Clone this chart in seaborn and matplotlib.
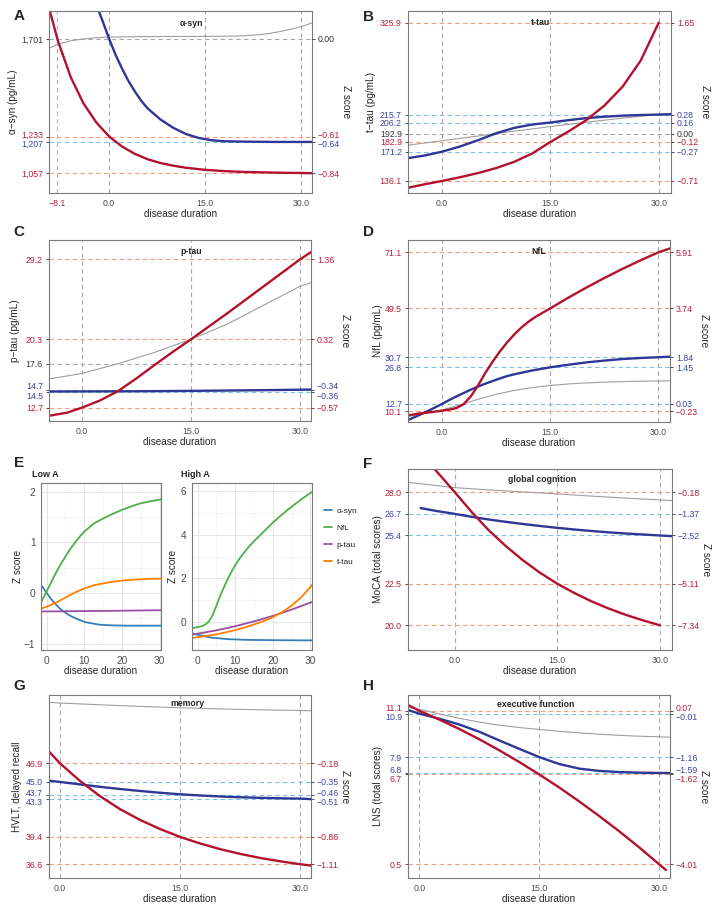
import matplotlib
matplotlib.use("Agg")
import matplotlib.pyplot as plt
import matplotlib.transforms as mtransforms
import pandas as pd
import seaborn as sns

FIG_W, FIG_H = 712, 907

sns.set_style("white")
plt.rcParams['font.family'] = ['Liberation Sans', 'DejaVu Sans']

RED = '#B3122E'
BLUE = '#2E3796'
GREY = '#9E9E9E'
LABEL_COLORS = {'r': '#B81D3A', 'b': '#3D43A8', 'k': '#333333', 'g': '#4D4D4D'}
DASH_COLORS = {'r': '#F89C7E', 'b': '#7CC0EC', 'k': '#A8A8A8', 'g': '#A8A8A8'}
SPINE = '#7A7A7A'

# ---------------- data ----------------
dur_ticks = [0, 15, 30]
dur_labels = ['0.0', '15.0', '30.0']
dur_kind = ['g', 'g', 'g']

# A: alpha-synuclein
asyn_hi_x = [-9.4, -8, -6, -4, -2, 0, 2, 4, 6, 8, 10, 12, 15, 18, 21, 24, 27, 30, 31.7]
asyn_hi = [1850, 1691, 1517, 1391, 1300, 1233, 1185, 1150, 1124, 1106, 1093, 1083, 1073,
           1067, 1063, 1061, 1059, 1058, 1057]
asyn_lo_x = [-1.9, -1, 0, 1, 2, 3, 4, 5, 6, 8, 10, 12, 14, 16, 18, 22, 26, 31.7]
asyn_lo = [1857, 1785, 1701, 1625, 1560, 1500, 1450, 1405, 1368, 1315, 1275, 1245, 1226,
           1215, 1210, 1208, 1207, 1207]
asyn_ref_x = [-9.4, -8, -6, -4, -2, 0, 5, 10, 15, 20, 23, 25, 27, 29, 30.5, 31.7]
asyn_ref = [1656, 1676, 1692, 1701, 1707, 1710, 1712, 1713, 1713, 1715, 1720, 1727, 1738,
            1752, 1765, 1778]
asyn_xticks = [-8.1, 0, 15, 30]
asyn_xlabels = ['−8.1', '0.0', '15.0', '30.0']
asyn_xkind = ['r', 'g', 'g', 'g']
asyn_yticks = [1057, 1207, 1233, 1701]
asyn_ylabels = ['1,057', '1,207', '1,233', '1,701']
asyn_zlabels = ['−0.84', '−0.64', '−0.61', '0.00']
asyn_ykind = ['r', 'b', 'r', 'k']

# B: total tau
ttau_hi_x = [-4.7, -2.5, 0, 2.5, 5, 7.5, 10, 12.5, 15, 17.5, 20, 22.5, 25, 27.5, 30]
ttau_hi = [128.0, 132.0, 136.1, 140.6, 145.6, 151.6, 159.1, 169.1, 182.9, 195.4, 209.2,
           226.7, 249.2, 280.4, 325.9]
ttau_lo_x = [-4.7, -2.5, 0, 2.5, 5, 7.5, 10, 12.5, 15, 17.5, 20, 22.5, 25, 27.5, 30, 31.7]
ttau_lo = [163.5, 166.5, 171.2, 177.5, 185.0, 193.3, 199.8, 203.8, 206.2, 209.0, 211.5,
           213.2, 214.4, 215.2, 215.7, 216.0]
ttau_ref_x = [-4.7, 0, 5, 10, 15, 20, 25, 30, 31.7]
ttau_ref = [179.0, 184.4, 190.0, 195.8, 201.3, 206.5, 211.5, 216.0, 217.3]
ttau_yticks = [136.1, 171.2, 182.9, 192.9, 206.2, 215.7, 325.9]
ttau_ylabels = ['136.1', '171.2', '182.9', '192.9', '206.2', '215.7', '325.9']
ttau_zlabels = ['−0.71', '−0.27', '−0.12', '0.00', '0.16', '0.28', '1.65']
ttau_ykind = ['r', 'b', 'r', 'k', 'b', 'b', 'r']

# C: phosphorylated tau
ptau_hi_x = [-4.5, -2, 0, 2.5, 5, 7.5, 10, 12.5, 15, 17.5, 20, 22.5, 25, 27.5, 30, 31.5]
ptau_hi = [11.8, 12.15, 12.7, 13.5, 14.55, 15.95, 17.45, 18.9, 20.3, 21.75, 23.2, 24.7,
           26.2, 27.7, 29.2, 30.0]
ptau_lo_x = [-4.5, 0, 5, 10, 15, 20, 25, 30, 31.5]
ptau_lo = [14.50, 14.51, 14.52, 14.54, 14.57, 14.61, 14.65, 14.70, 14.72]
ptau_ref_x = [-4.5, 0, 5, 10, 15, 20, 25, 30, 31.5]
ptau_ref = [15.9, 16.5, 17.6, 18.85, 20.3, 22.0, 24.1, 26.2, 26.6]
ptau_yticks = [12.7, 14.5, 14.7, 17.6, 20.3, 29.2]
ptau_ylabels = ['12.7', '14.5', '14.7', '17.6', '20.3', '29.2']
ptau_zlabels = ['−0.57', '−0.36', '−0.34', '', '0.32', '1.36']
ptau_ykind = ['r', 'b', 'b', 'k', 'r', 'r']

# D: neurofilament light
nfl_hi_x = [-4.7, -3, -1, 0, 1, 2, 3, 4, 5, 6, 7, 8, 9, 10, 11, 12, 13, 14, 15, 17.5, 20,
            22.5, 25, 27.5, 30, 31.6]
nfl_hi = [8.3, 9.1, 9.7, 10.1, 10.5, 11.1, 12.6, 15.6, 19.8, 24.6, 28.9, 32.8, 36.3, 39.4,
          42.1, 44.4, 46.3, 47.9, 49.5, 53.6, 57.5, 61.2, 64.7, 68.0, 71.1, 72.6]
nfl_lo_x = [-4.7, -3, -2, -1, 0, 1, 2, 3, 4, 5, 6, 7, 8, 9, 10, 12.5, 15, 17.5, 20, 22.5,
            25, 27.5, 30, 31.6]
nfl_lo = [6.5, 8.6, 9.9, 11.3, 12.7, 14.2, 15.6, 16.9, 18.2, 19.4, 20.5, 21.5, 22.5, 23.4,
          24.1, 25.6, 26.8, 27.8, 28.7, 29.4, 30.0, 30.4, 30.7, 30.9]
nfl_ref_x = [-4.7, -2.5, 0, 2.5, 5, 7.5, 10, 12.5, 15, 17.5, 20, 22.5, 25, 27.5, 30, 31.6]
nfl_ref = [7.9, 9.0, 10.4, 12.3, 14.5, 16.4, 17.9, 19.0, 19.8, 20.4, 20.8, 21.1, 21.3,
           21.45, 21.55, 21.6]
nfl_yticks = [10.1, 12.7, 26.8, 30.7, 49.5, 71.1]
nfl_ylabels = ['10.1', '12.7', '26.8', '30.7', '49.5', '71.1']
nfl_zlabels = ['−0.23', '0.03', '1.45', '1.84', '3.74', '5.91']
nfl_ykind = ['r', 'b', 'b', 'b', 'r', 'r']

# F: global cognition (MoCA)
moca_hi_x = [-3.4, -2, 0, 2.5, 5, 7.5, 10, 12.5, 15, 17.5, 20, 22.5, 25, 27.5, 30]
moca_hi = [29.6, 28.95, 28.0, 26.8, 25.7, 24.75, 23.9, 23.15, 22.5, 21.94, 21.44, 21.01,
           20.63, 20.3, 20.0]
moca_lo_x = [-5.0, -2.5, 0, 2.5, 5, 7.5, 10, 12.5, 15, 17.5, 20, 22.5, 25, 27.5, 30, 31.8]
moca_lo = [27.05, 26.86, 26.7, 26.52, 26.36, 26.22, 26.09, 25.97, 25.86, 25.76, 25.67,
           25.59, 25.52, 25.46, 25.4, 25.36]
moca_ref_x = [-6.85, -3, 0, 5, 10, 15, 20, 25, 30, 31.8]
moca_ref = [28.6, 28.42, 28.28, 28.14, 28.02, 27.9, 27.77, 27.65, 27.54, 27.5]
moca_yticks = [20.0, 22.5, 25.4, 26.7, 28.0]
moca_ylabels = ['20.0', '22.5', '25.4', '26.7', '28.0']
moca_zlabels = ['−7.34', '−5.11', '−2.52', '−1.37', '−0.18']
moca_ykind = ['r', 'r', 'b', 'b', 'r']

# G: memory (HVLT delayed recall)
hvlt_hi_x = [-1.375, 0, 2.5, 5, 7.5, 10, 12.5, 15, 17.5, 20, 22.5, 25, 27.5, 30, 31.4]
hvlt_hi = [48.1, 46.9, 45.1, 43.55, 42.23, 41.13, 40.2, 39.4, 38.73, 38.15, 37.67, 37.25,
           36.91, 36.61, 36.47]
hvlt_lo_x = [-1.375, 0, 2.5, 5, 7.5, 10, 12.5, 15, 17.5, 20, 22.5, 25, 27.5, 30, 31.4]
hvlt_lo = [45.13, 45.0, 44.75, 44.5, 44.28, 44.08, 43.9, 43.74, 43.62, 43.52, 43.44, 43.38,
           43.33, 43.3, 43.25]
hvlt_ref_x = [-1.375, 0, 5, 10, 15, 20, 25, 30, 31.4]
hvlt_ref = [53.12, 53.05, 52.87, 52.71, 52.57, 52.45, 52.36, 52.29, 52.27]
hvlt_yticks = [36.6, 39.4, 43.3, 43.7, 45.0, 46.9]
hvlt_ylabels = ['36.6', '39.4', '43.3', '43.7', '45.0', '46.9']
hvlt_zlabels = ['−1.11', '−0.86', '−0.51', '−0.46', '−0.35', '−0.18']
hvlt_ykind = ['r', 'r', 'b', 'b', 'b', 'r']

# H: executive function (LNS)
lns_hi_x = [-1.42, 0, 2.5, 5, 7.5, 10, 12.5, 15, 17.5, 20, 22.5, 25, 27.5, 30, 30.9]
lns_hi = [11.5, 11.1, 10.49, 9.84, 9.13, 8.37, 7.56, 6.7, 5.8, 4.84, 3.83, 2.78, 1.67,
          0.5, 0.08]
lns_lo_x = [-1.42, 0, 2.5, 5, 7.5, 10, 12.5, 15, 17.5, 20, 22.5, 25, 27.5, 30, 31.4]
lns_lo = [11.15, 10.9, 10.55, 10.15, 9.65, 9.05, 8.47, 7.9, 7.42, 7.1, 6.94, 6.86, 6.82,
          6.8, 6.79]
lns_ref_x = [-1.42, 0, 2.5, 5, 7.5, 10, 12.5, 15, 17.5, 20, 22.5, 25, 27.5, 30, 31.4]
lns_ref = [11.33, 11.2, 10.88, 10.58, 10.32, 10.1, 9.94, 9.81, 9.68, 9.57, 9.48, 9.4, 9.34,
           9.3, 9.27]
lns_yticks = [0.5, 6.7, 6.8, 7.9, 10.9, 11.1]
lns_ylabels = ['0.5', '6.7', '6.8', '7.9', '10.9', '11.1']
lns_zlabels = ['−4.01', '−1.62', '−1.59', '−1.16', '−0.01', '0.07']
lns_ykind = ['r', 'r', 'b', 'b', 'b', 'r']

# E: Z scores of all biomarkers, low vs high amyloid
markers = ['α-syn', 'NfL', 'p-tau', 't-tau']
marker_colors = ['#377EB8', '#4DAF4A', '#984EA3', '#FF7F00']

low_asyn_x = [-1.5, 0, 1, 2, 3, 4, 5, 6, 8, 10, 12, 14, 16, 18, 22, 26, 30.4]
low_asyn = [0.16, 0.0, -0.10, -0.19, -0.27, -0.34, -0.39, -0.44, -0.51, -0.57, -0.60,
            -0.625, -0.635, -0.64, -0.645, -0.645, -0.645]
low_nfl_x = [-1.5, 0, 1, 2, 3, 4, 5, 6, 7, 8, 9, 10, 12.5, 15, 17.5, 20, 22.5, 25, 27.5,
             30, 30.4]
low_nfl = [-0.18, 0.03, 0.18, 0.33, 0.47, 0.60, 0.72, 0.84, 0.94, 1.04, 1.13, 1.21, 1.37,
           1.47, 1.56, 1.64, 1.71, 1.77, 1.81, 1.84, 1.85]
low_ptau_x = [-1.5, 10, 20, 30.4]
low_ptau = [-0.365, -0.357, -0.35, -0.34]
low_ttau_x = [-1.5, 0, 2.5, 5, 7.5, 10, 12.5, 15, 17.5, 20, 22.5, 25, 27.5, 30, 30.4]
low_ttau = [-0.31, -0.27, -0.19, -0.09, 0.01, 0.09, 0.15, 0.19, 0.22, 0.245, 0.26, 0.27,
            0.28, 0.283, 0.285]

high_asyn_x = [-1.5, 0, 2, 4, 6, 8, 10, 12, 15, 20, 25, 30.4]
high_asyn = [-0.52, -0.58, -0.66, -0.72, -0.75, -0.78, -0.795, -0.81, -0.82, -0.83,
             -0.835, -0.84]
high_nfl_x = [-1.5, 0, 1, 2, 3, 4, 5, 6, 7, 8, 9, 10, 11, 12, 13, 14, 15, 17.5, 20, 22.5,
              25, 27.5, 30, 30.4]
high_nfl = [-0.28, -0.23, -0.19, -0.12, 0.03, 0.32, 0.75, 1.2, 1.6, 1.97, 2.3, 2.6, 2.87,
            3.1, 3.32, 3.52, 3.7, 4.13, 4.55, 4.93, 5.28, 5.61, 5.91, 5.95]
high_ptau_x = [-1.5, 0, 5, 10, 15, 20, 25, 30, 30.4]
high_ptau = [-0.58, -0.53, -0.38, -0.19, 0.03, 0.28, 0.57, 0.89, 0.92]
high_ttau_x = [-1.5, 0, 2.5, 5, 7.5, 10, 12.5, 15, 17.5, 20, 22.5, 25, 27.5, 30, 30.4]
high_ttau = [-0.73, -0.69, -0.63, -0.56, -0.47, -0.37, -0.25, -0.11, 0.04, 0.22, 0.45,
             0.75, 1.12, 1.6, 1.7]


def px_rect(l, t, r, b):
    return [l / FIG_W, 1 - b / FIG_H, (r - l) / FIG_W, (b - t) / FIG_H]


def nudge_labels(ticks, nudges, fig):
    # push apart tick labels that would sit on top of each other
    for tick in ticks:
        dy = nudges.get(round(tick.get_loc(), 2))
        if dy:
            off = mtransforms.ScaledTranslation(0, dy / 72, fig.dpi_scale_trans)
            for lab in (tick.label1, tick.label2):
                lab.set_transform(lab.get_transform() + off)


def draw_panel(fig, p):
    l, t, r, b = p['rect']
    w_px, h_px = r - l, b - t
    ax = fig.add_axes(px_rect(*p['rect']))

    dash = (0, (4, 3))
    for xv, k in zip(p['xticks'], p['xkind']):
        ax.axvline(xv, color=DASH_COLORS[k], lw=0.8, ls=dash, zorder=1)
    for yv, k in zip(p['yticks'], p['ykind']):
        ax.axhline(yv, color=DASH_COLORS[k], lw=0.8, ls=dash, zorder=1)

    sns.lineplot(x=p['ref'][0], y=p['ref'][1], ax=ax, color=GREY, lw=0.8, estimator=None)
    sns.lineplot(x=p['lo'][0], y=p['lo'][1], ax=ax, color=BLUE, lw=1.7, estimator=None)
    sns.lineplot(x=p['hi'][0], y=p['hi'][1], ax=ax, color=RED, lw=1.7, estimator=None)

    ax.set_xlim(*p['xlim'])
    ax.set_ylim(*p['ylim'])
    ax.set_xticks(p['xticks'])
    ax.set_xticklabels(p['xlabels'])
    ax.set_yticks(p['yticks'])
    ax.set_yticklabels(p['ylabels'])
    for lab, k in zip(ax.get_xticklabels(), p['xkind']):
        lab.set_color(LABEL_COLORS[k])
    for lab, k in zip(ax.get_yticklabels(), p['ykind']):
        lab.set_color(LABEL_COLORS[k])
    ax.tick_params(length=2.5, width=0.6, color='#333333', labelsize=6.3, pad=1.8)
    for s in ax.spines.values():
        s.set_color(SPINE)
        s.set_linewidth(0.8)

    # right-hand Z score axis
    ax2 = ax.twinx()
    ax2.set_ylim(*p['ylim'])
    z_pos = [y for y, z in zip(p['yticks'], p['zlabels']) if z]
    z_lab = [z for z in p['zlabels'] if z]
    z_kind = [k for k, z in zip(p['ykind'], p['zlabels']) if z]
    ax2.set_yticks(z_pos)
    ax2.set_yticklabels(z_lab)
    for lab, k in zip(ax2.get_yticklabels(), z_kind):
        lab.set_color(LABEL_COLORS[k])
    ax2.tick_params(length=2.5, width=0.6, color='#333333', labelsize=6.3, pad=1.8)
    for s in ax2.spines.values():
        s.set_visible(False)

    ax.set_xlabel('disease duration', fontsize=7.2, va='center')
    ax.xaxis.set_label_coords(0.5, -21 / h_px)
    ax.set_ylabel(p['ylabel'], fontsize=7.2, va='center')
    ax.yaxis.set_label_coords(-p['ylab_off'] / w_px, 0.5)
    ax2.set_ylabel('Z score', fontsize=7.2, rotation=270, va='center', ha='center')
    ax2.yaxis.set_label_coords(1 + 34 / w_px, 0.5)

    ax.text(p['title_x'], 1 - p['title_dy'] / h_px, p['title'], transform=ax.transAxes,
            ha='center', va='center', fontsize=6.3, fontweight='bold')

    nudge_labels(ax.yaxis.get_major_ticks(), p['nudges'], fig)
    nudge_labels(ax2.yaxis.get_major_ticks(), p['nudges'], fig)
    return ax


def long_frame(parts):
    frames = [pd.DataFrame({'duration': xs, 'z': zs, 'biomarker': name})
              for name, xs, zs in parts]
    return pd.concat(frames, ignore_index=True)


def draw_e(fig, rect, df, xlim, ylim, yticks, yminor, ylab_off, legend):
    l, t, r, b = rect
    ax = fig.add_axes(px_rect(*rect))
    ax.set_axisbelow(True)
    sns.lineplot(data=df, x='duration', y='z', hue='biomarker', hue_order=markers,
                 palette=marker_colors, lw=1.3, estimator=None, legend=legend, ax=ax)
    ax.set_xlim(*xlim)
    ax.set_ylim(*ylim)
    ax.set_xticks([0, 10, 20, 30])
    ax.set_xticks([5, 15, 25], minor=True)
    ax.set_yticks(yticks)
    ax.set_yticks(yminor, minor=True)
    ax.grid(which='major', color='#E6E6E6', lw=0.7)
    ax.grid(which='minor', color='#F2F2F2', lw=0.45)
    ax.tick_params(which='major', length=2.5, width=0.6, color='#333333', labelsize=7.3,
                   labelcolor='#4D4D4D', pad=1.5)
    ax.tick_params(which='minor', length=0)
    for s in ax.spines.values():
        s.set_color(SPINE)
        s.set_linewidth(0.8)
    ax.set_xlabel('disease duration', fontsize=7.2, va='center')
    ax.xaxis.set_label_coords(0.5, -21.5 / (b - t))
    ax.set_ylabel('Z score', fontsize=7.2, va='center')
    ax.yaxis.set_label_coords(-ylab_off / (r - l), 0.5)
    return ax


fig = plt.figure(figsize=(FIG_W / 100, FIG_H / 100), dpi=100)

panels = [
    dict(rect=(49, 11, 312, 193), title='α-syn', ylabel='α−syn (pg/mL)',
         hi=(asyn_hi_x, asyn_hi), lo=(asyn_lo_x, asyn_lo), ref=(asyn_ref_x, asyn_ref),
         xlim=(-9.4, 31.7), ylim=(962, 1835),
         xticks=asyn_xticks, xlabels=asyn_xlabels, xkind=asyn_xkind,
         yticks=asyn_yticks, ylabels=asyn_ylabels, zlabels=asyn_zlabels, ykind=asyn_ykind,
         title_x=0.54, title_dy=12, ylab_off=36, nudges={1233: 1.3, 1207: -1.3}),
    dict(rect=(408, 11, 671, 193), title='t-tau', ylabel='t−tau (pg/mL)',
         hi=(ttau_hi_x, ttau_hi), lo=(ttau_lo_x, ttau_lo), ref=(ttau_ref_x, ttau_ref),
         xlim=(-4.7, 31.7), ylim=(121.7, 339.9),
         xticks=dur_ticks, xlabels=dur_labels, xkind=dur_kind,
         yticks=ttau_yticks, ylabels=ttau_ylabels, zlabels=ttau_zlabels, ykind=ttau_ykind,
         title_x=0.502, title_dy=11.7, ylab_off=37, nudges={}),
    dict(rect=(49, 240, 311, 421), title='p-tau', ylabel='p−tau (pg/mL)',
         hi=(ptau_hi_x, ptau_hi), lo=(ptau_lo_x, ptau_lo), ref=(ptau_ref_x, ptau_ref),
         xlim=(-4.5, 31.5), ylim=(11.22, 31.35),
         xticks=dur_ticks, xlabels=dur_labels, xkind=dur_kind,
         yticks=ptau_yticks, ylabels=ptau_ylabels, zlabels=ptau_zlabels, ykind=ptau_ykind,
         title_x=0.542, title_dy=11.7, ylab_off=34, nudges={14.7: 3.0, 14.5: -2.8}),
    dict(rect=(408, 240, 670, 422), title='NfL', ylabel='NfL (pg/mL)',
         hi=(nfl_hi_x, nfl_hi), lo=(nfl_lo_x, nfl_lo), ref=(nfl_ref_x, nfl_ref),
         xlim=(-4.7, 31.6), ylim=(5.75, 75.84),
         xticks=dur_ticks, xlabels=dur_labels, xkind=dur_kind,
         yticks=nfl_yticks, ylabels=nfl_ylabels, zlabels=nfl_zlabels, ykind=nfl_ykind,
         title_x=0.5, title_dy=11.7, ylab_off=30, nudges={12.7: 0.6, 10.1: -0.6}),
    dict(rect=(408, 469, 672, 650), title='global cognition', ylabel='MoCA (total scores)',
         hi=(moca_hi_x, moca_hi), lo=(moca_lo_x, moca_lo), ref=(moca_ref_x, moca_ref),
         xlim=(-6.85, 31.8), ylim=(18.51, 29.40),
         xticks=dur_ticks, xlabels=dur_labels, xkind=dur_kind,
         yticks=moca_yticks, ylabels=moca_ylabels, zlabels=moca_zlabels, ykind=moca_ykind,
         title_x=0.508, title_dy=10.3, ylab_off=30, nudges={}),
    dict(rect=(49, 695, 311, 878), title='memory', ylabel='HVLT, delayed recall',
         hi=(hvlt_hi_x, hvlt_hi), lo=(hvlt_lo_x, hvlt_lo), ref=(hvlt_ref_x, hvlt_ref),
         xlim=(-1.375, 31.4), ylim=(35.2, 53.87),
         xticks=dur_ticks, xlabels=dur_labels, xkind=dur_kind,
         yticks=hvlt_yticks, ylabels=hvlt_ylabels, zlabels=hvlt_zlabels, ykind=hvlt_ykind,
         title_x=0.527, title_dy=8.3, ylab_off=32, nudges={43.7: 1.6, 43.3: -1.9}),
    dict(rect=(408, 695, 670, 878), title='executive function', ylabel='LNS (total scores)',
         hi=(lns_hi_x, lns_hi), lo=(lns_lo_x, lns_lo), ref=(lns_ref_x, lns_ref),
         xlim=(-1.42, 31.4), ylim=(-0.468, 12.19),
         xticks=dur_ticks, xlabels=dur_labels, xkind=dur_kind,
         yticks=lns_yticks, ylabels=lns_ylabels, zlabels=lns_zlabels, ykind=lns_ykind,
         title_x=0.489, title_dy=9.3, ylab_off=30,
         nudges={11.1: 2.0, 10.9: -2.2, 6.8: 2.8, 6.7: -2.9}),
]
for p in panels:
    draw_panel(fig, p)

low_df = long_frame([('α-syn', low_asyn_x, low_asyn), ('NfL', low_nfl_x, low_nfl),
                     ('p-tau', low_ptau_x, low_ptau), ('t-tau', low_ttau_x, low_ttau)])
high_df = long_frame([('α-syn', high_asyn_x, high_asyn), ('NfL', high_nfl_x, high_nfl),
                      ('p-tau', high_ptau_x, high_ptau), ('t-tau', high_ttau_x, high_ttau)])

draw_e(fig, (41, 483, 161, 650), low_df, (-1.5, 30.35), (-1.125, 2.17),
       [-1, 0, 1, 2], [-0.5, 0.5, 1.5], 23, False)
ax_hi = draw_e(fig, (192, 483, 312, 650), high_df, (-1.5, 30.45), (-1.28, 6.37),
               [0, 2, 4, 6], [-1, 1, 3, 5], 19, True)
handles, labels = ax_hi.get_legend_handles_labels()
ax_hi.get_legend().remove()
fig.legend(handles, labels, loc='center left', frameon=False, fontsize=6,
           bbox_to_anchor=(316.5 / FIG_W, 1 - 536.4 / FIG_H), handlelength=1.0,
           handletextpad=0.5, labelspacing=1.1, borderpad=0.4)

fig.text(32 / FIG_W, 1 - 474.5 / FIG_H, 'Low A', fontsize=6.5, fontweight='bold',
         ha='left', va='center')
fig.text(180.7 / FIG_W, 1 - 474.5 / FIG_H, 'High A', fontsize=6.5, fontweight='bold',
         ha='left', va='center')

letters = [('A', 19, 16), ('B', 368, 17), ('C', 19, 232), ('D', 368, 232),
           ('E', 19, 463), ('F', 368, 464), ('G', 19, 686), ('H', 368, 686)]
for letter, lx, ly in letters:
    fig.text(lx / FIG_W, 1 - ly / FIG_H, letter, fontsize=11, fontweight='bold',
             ha='center', va='center')

fig.savefig('out.png', dpi=100, facecolor='white')
